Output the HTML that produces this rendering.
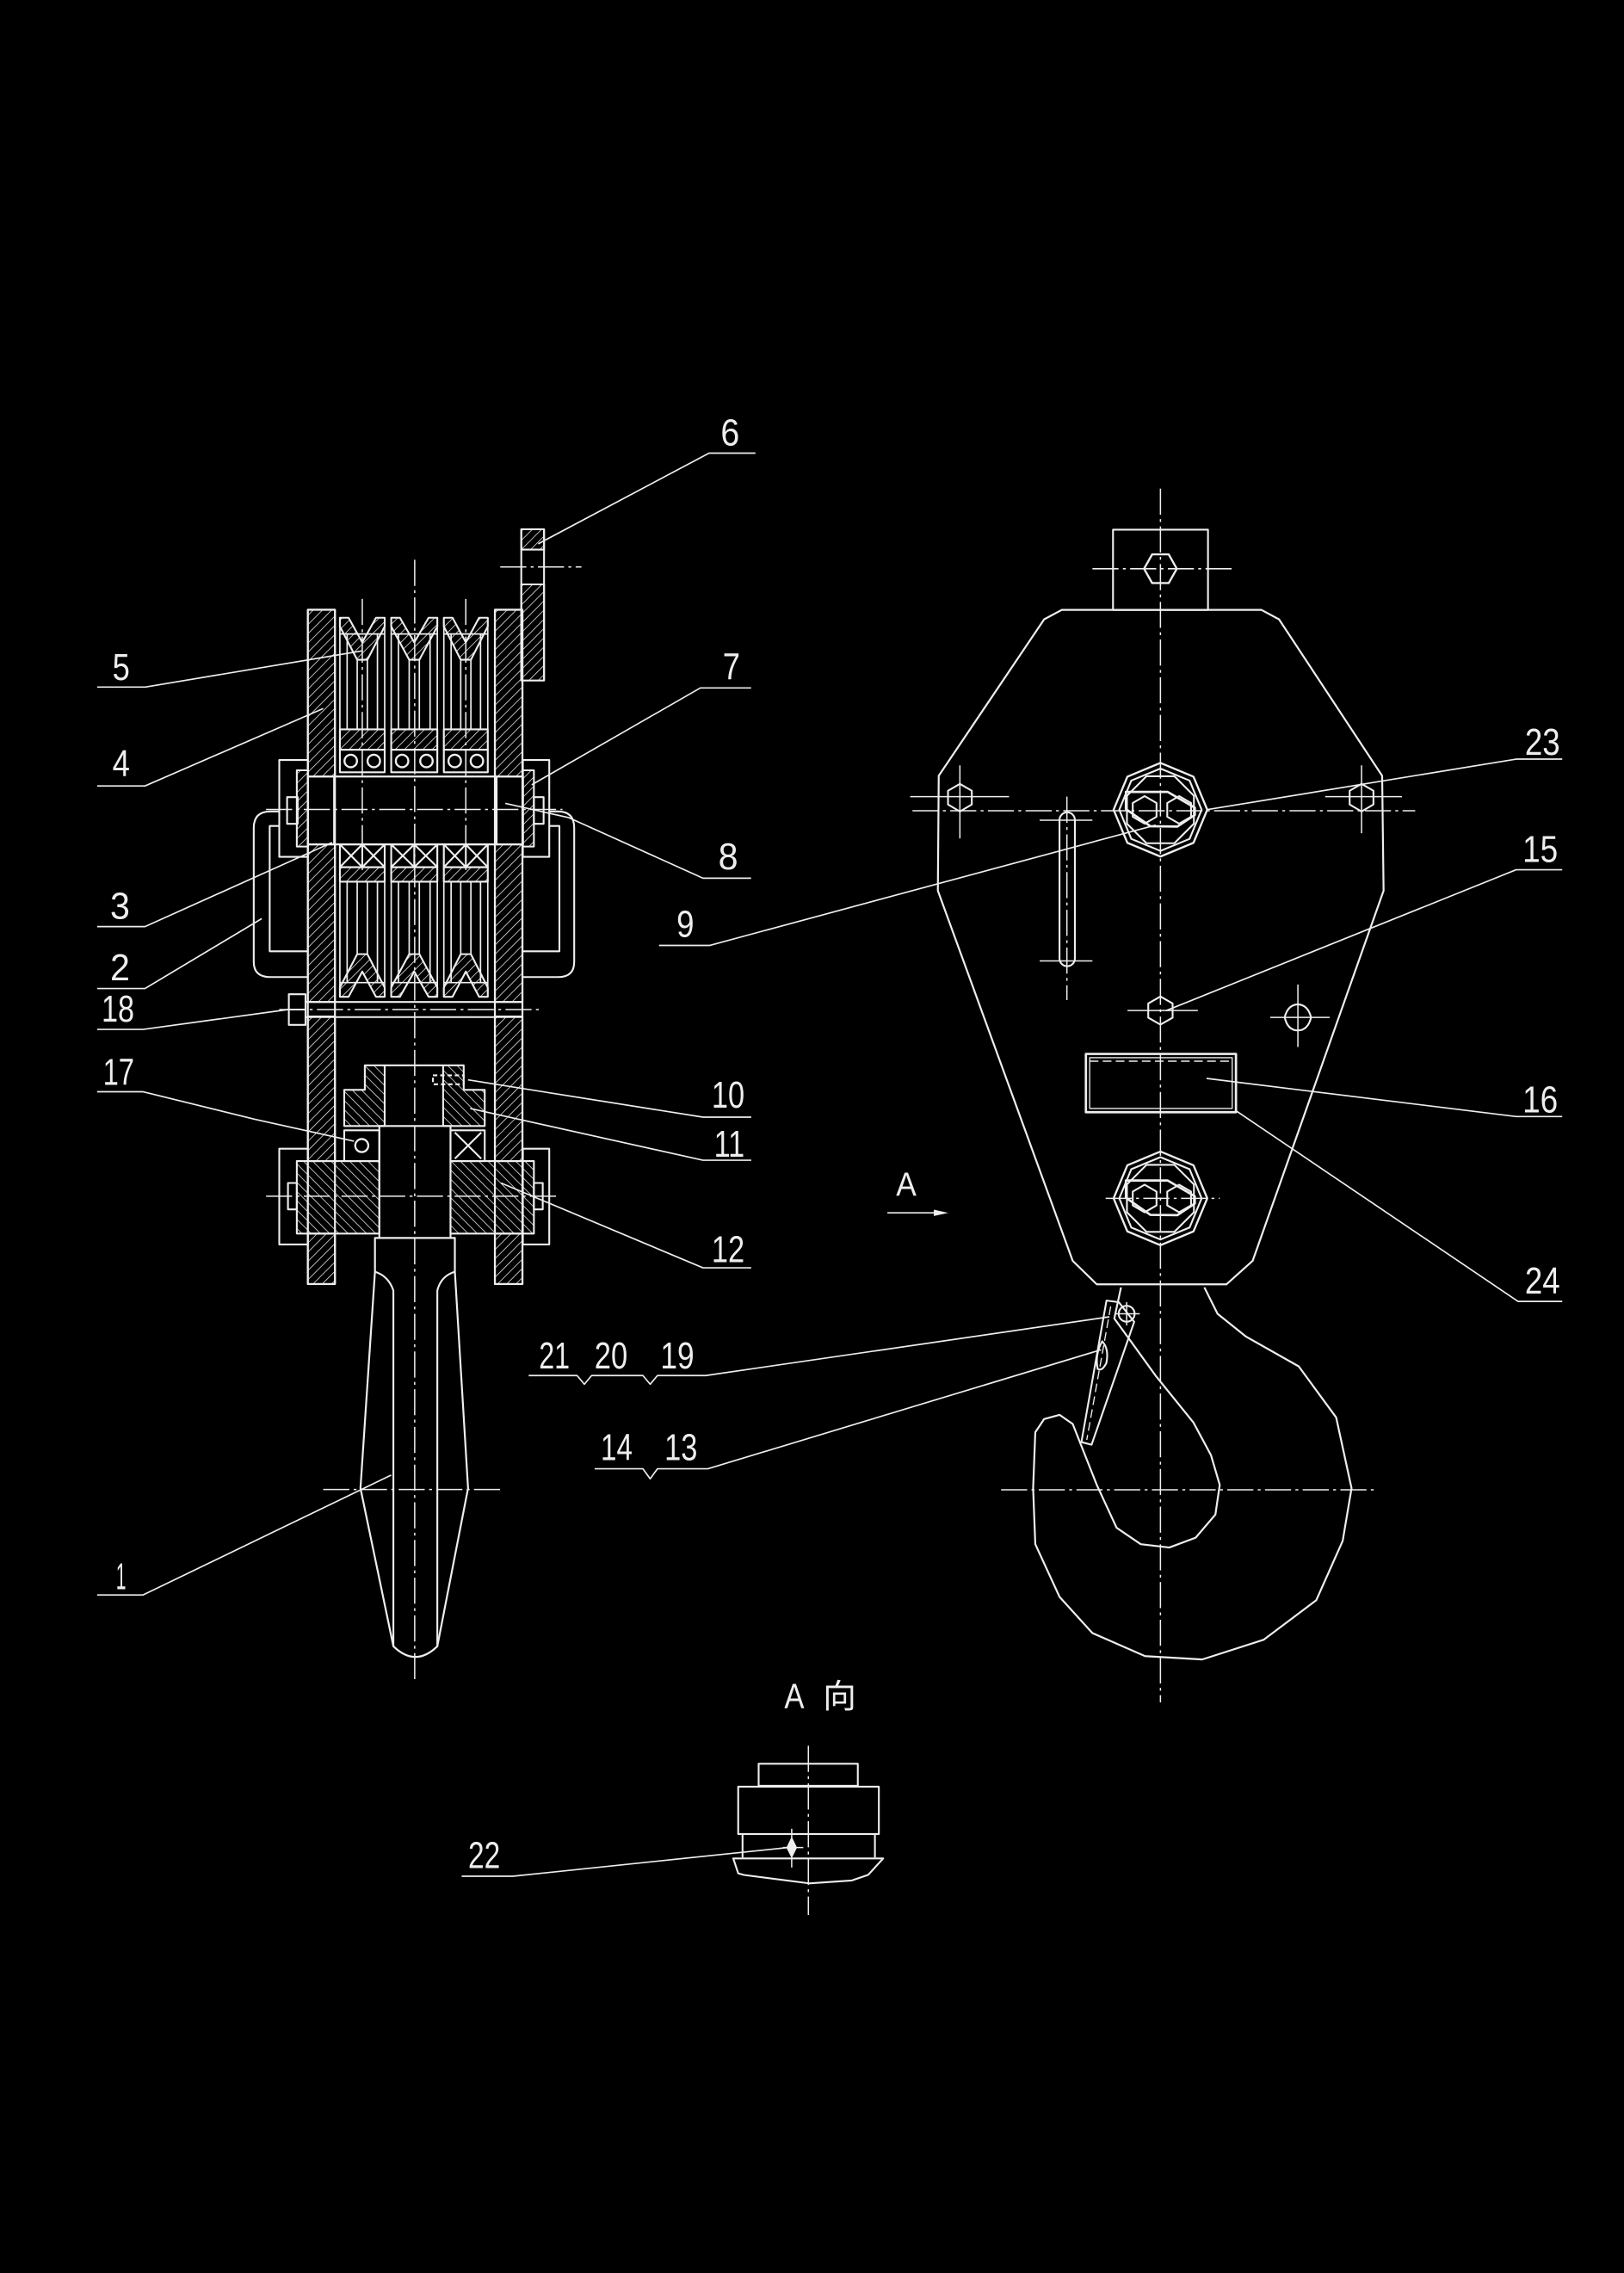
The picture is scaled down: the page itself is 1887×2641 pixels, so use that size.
<!DOCTYPE html>
<html><head><meta charset="utf-8"><style>
html,body{margin:0;padding:0;background:#000;}
svg{display:block;}
text{font-family:"Liberation Sans","Noto Sans CJK SC",sans-serif;fill:#eee;font-size:26px;}
</style></head><body>
<svg xmlns="http://www.w3.org/2000/svg" width="1887" height="2641" viewBox="0 0 1120 1567.5">
<defs>
<pattern id="hf" patternUnits="userSpaceOnUse" width="4.5" height="4.5" patternTransform="rotate(45)"><line x1="0" y1="0" x2="0" y2="4.5" stroke="#eee" stroke-width="0.9"/></pattern>
<pattern id="hb" patternUnits="userSpaceOnUse" width="4.5" height="4.5" patternTransform="rotate(-45)"><line x1="0" y1="0" x2="0" y2="4.5" stroke="#eee" stroke-width="0.9"/></pattern>
</defs>
<rect width="1120" height="1567.5" fill="#000"/>
<g fill="none" stroke="#eee" stroke-width="1.25" stroke-linejoin="round">

<!-- ===== centerlines (dash-dot) ===== -->
<g stroke-width="0.9" stroke-dasharray="18 3 2 3">
<line x1="286" y1="386" x2="286" y2="1160"/>
<line x1="249.85" y1="413" x2="249.85" y2="600"/>
<line x1="321.25" y1="413" x2="321.25" y2="600"/>
<line x1="183.5" y1="558.2" x2="387.9" y2="558.2"/>
<line x1="192.6" y1="696.2" x2="374.2" y2="696.2"/>
<line x1="183.5" y1="824.9" x2="384.9" y2="824.9"/>
<line x1="222.9" y1="1027.2" x2="347" y2="1027.2"/>
<line x1="345" y1="391" x2="401" y2="391"/>
<line x1="800.3" y1="337" x2="800.3" y2="1174"/>
<line x1="629.3" y1="559.1" x2="976" y2="559.1"/>
<line x1="753.4" y1="392.2" x2="850.3" y2="392.2"/>
<line x1="762.5" y1="826.4" x2="841.2" y2="826.4"/>
<line x1="690.4" y1="1027.4" x2="948.7" y2="1027.4"/>
<line x1="735.8" y1="549.4" x2="735.8" y2="689.7"/>
<line x1="557.5" y1="1203.9" x2="557.5" y2="1320.6"/>
</g>

<!-- ===== LEFT ASSEMBLY ===== -->
<g fill="url(#hf)">
<rect x="212.3" y="420.5" width="18.7" height="115"/>
<rect x="212.3" y="582.3" width="18.7" height="108.7"/>
<rect x="212.3" y="701" width="18.7" height="99.7"/>
<rect x="212.3" y="850.7" width="18.7" height="34.8"/>
<rect x="341.3" y="420.5" width="19" height="115"/>
<rect x="341.3" y="582.3" width="19" height="108.7"/>
<rect x="341.3" y="701" width="19" height="99.7"/>
<rect x="341.3" y="850.7" width="19" height="34.8"/>
<rect x="359.5" y="365" width="15.7" height="14"/>
<rect x="359.5" y="403" width="15.7" height="66.3"/>
<rect x="204.7" y="531.2" width="7.6" height="52.6"/>
<rect x="360.6" y="531.2" width="7.6" height="52.6"/>
</g>
<line x1="359.5" y1="365" x2="359.5" y2="469.3"/>
<line x1="375.2" y1="365" x2="375.2" y2="469.3"/>

<!-- sheave rims / hubs -->
<g fill="url(#hf)">
<polygon points="234.4,426 240.4,426 249.85,443 259.3,426 265.3,426 265.3,432 253.35,455 246.35,455 234.4,432"/>
<polygon points="269.8,426 275.8,426 285.7,443 295.6,426 301.6,426 301.6,432 289.2,455 282.2,455 269.8,432"/>
<polygon points="306.1,426 312.1,426 321.25,443 330.4,426 336.4,426 336.4,432 324.75,455 317.75,455 306.1,432"/>
<rect x="234.4" y="503" width="30.9" height="14"/>
<rect x="269.8" y="503" width="31.8" height="14"/>
<rect x="306.1" y="503" width="30.3" height="14"/>
<rect x="234.4" y="598" width="30.9" height="10"/>
<rect x="269.8" y="598" width="31.8" height="10"/>
<rect x="306.1" y="598" width="30.3" height="10"/>
<polygon points="234.4,687.4 240.4,687.4 249.85,670 259.3,687.4 265.3,687.4 265.3,681 253.35,658 246.35,658 234.4,681"/>
<polygon points="269.8,687.4 275.8,687.4 285.7,670 295.6,687.4 301.6,687.4 301.6,681 289.2,658 282.2,658 269.8,681"/>
<polygon points="306.1,687.4 312.1,687.4 321.25,670 330.4,687.4 336.4,687.4 336.4,681 324.75,658 317.75,658 306.1,681"/>
</g>
<path d="M234.4 426V532.6M265.3 426V532.6M269.8 426V532.6M301.6 426V532.6M306.1 426V532.6M336.4 426V532.6
M234.4 582.3V687.4M265.3 582.3V687.4M269.8 582.3V687.4M301.6 582.3V687.4M306.1 582.3V687.4M336.4 582.3V687.4
M246.35 455V503M253.35 455V503M282.2 455V503M289.2 455V503M317.75 455V503M324.75 455V503
M246.35 608V658M253.35 608V658M282.2 608V658M289.2 608V658M317.75 608V658M324.75 608V658
M239.4 437V503M260.3 437V503M274.8 437V503M296.6 437V503M311.1 437V503M331.4 437V503
M239.4 608V678M260.3 608V678M274.8 608V678M296.6 608V678M311.1 608V678M331.4 608V678
M234.4 437.2H265.3M269.8 437.2H301.6M306.1 437.2H336.4
M234.4 677.6H265.3M269.8 677.6H301.6M306.1 677.6H336.4" stroke-width="1"/>
<rect x="234.4" y="517" width="30.9" height="15.6"/>
<rect x="269.8" y="517" width="31.8" height="15.6"/>
<rect x="306.1" y="517" width="30.3" height="15.6"/>
<g stroke-width="1.4">
<circle cx="241.9" cy="524.8" r="4.3"/><circle cx="257.8" cy="524.8" r="4.3"/>
<circle cx="277.3" cy="524.8" r="4.3"/><circle cx="294.1" cy="524.8" r="4.3"/>
<circle cx="313.6" cy="524.8" r="4.3"/><circle cx="328.9" cy="524.8" r="4.3"/>
</g>
<rect x="234.4" y="582.3" width="30.9" height="15.7"/>
<rect x="269.8" y="582.3" width="31.8" height="15.7"/>
<rect x="306.1" y="582.3" width="30.3" height="15.7"/>
<path d="M234.4 582.3L249.85 598M249.85 582.3L234.4 598M249.85 582.3L265.3 598M265.3 582.3L249.85 598M249.85 582.3V598
M269.8 582.3L285.7 598M285.7 582.3L269.8 598M285.7 582.3L301.6 598M301.6 582.3L285.7 598M285.7 582.3V598
M306.1 582.3L321.25 598M321.25 582.3L306.1 598M321.25 582.3L336.4 598M336.4 582.3L321.25 598M321.25 582.3V598"/>
<rect x="212.3" y="535.5" width="148.3" height="46.8" stroke-width="1.4"/>
<path d="M230.4 535.5V582.3M342.5 535.5V582.3"/>
<path d="M212.3 420.5H231V885.5H212.3ZM341.3 420.5H360.3V885.5H341.3Z" stroke-width="1.3"/>
<rect x="192.6" y="524.1" width="19.7" height="66.8"/>
<rect x="360.6" y="524.1" width="18.2" height="66.8"/>
<rect x="198" y="549.7" width="7.3" height="18.4"/>
<rect x="368.2" y="549.7" width="6.7" height="18.4"/>
<path d="M192.6 559.6H186.5Q175 559.6 175 571V663.3Q175 673.8 186.5 673.8H212.3"/>
<path d="M192.6 569.6H186V656H212.3"/>
<path d="M378.8 559.6H384.9Q396 559.6 396 571V663.3Q396 673.8 384.9 673.8H360.6"/>
<path d="M378.8 569.6H385.8V656H360.6"/>
<rect x="199.2" y="685.6" width="11.5" height="21.2"/>
<path d="M199.2 696.2H210.7M210.7 691H360.6M210.7 701.4H360.6"/>

<g fill="url(#hb)">
<polygon points="251.6,734.7 265.3,734.7 265.3,776.5 237.4,776.5 237.4,751.6 251.6,751.6"/>
<polygon points="305.6,734.7 319.8,734.7 319.8,751.6 334.3,751.6 334.3,776.5 305.6,776.5"/>
<rect x="204.7" y="800.7" width="56.9" height="50"/>
<rect x="310.7" y="800.7" width="57.5" height="50"/>
</g>
<path d="M265.3 734.7H305.6M261.6 776.5H310.7M261.6 776.5V853.7M310.7 776.5V853.7"/>
<rect x="298.6" y="741.6" width="21.2" height="6.1" stroke-dasharray="3 2"/>
<rect x="237.4" y="779.5" width="24.2" height="21.2"/>
<circle cx="249.5" cy="790" r="4.5" stroke-width="1.4"/>
<rect x="310.7" y="779.5" width="23.6" height="21.2"/>
<path d="M313.7 781L331.9 799M331.9 781L313.7 799"/>
<rect x="192.6" y="792.2" width="19.7" height="66"/>
<rect x="360.6" y="792.2" width="18.2" height="66"/>
<rect x="198.6" y="815.8" width="6.1" height="18.2"/>
<rect x="368.2" y="815.8" width="6.1" height="18.2"/>

<path d="M258.6 853.7H313.7V877L322.8 1026.3L301.6 1135.3Q286.5 1150 271.3 1135.3L248.6 1026.3L258.6 877Z" stroke-width="1.3"/>
<path d="M258.6 877Q268 880 271.3 890V1135.3M313.7 877Q304 880 301.6 890V1135.3"/>

<!-- ===== RIGHT VIEW ===== -->
<rect x="767.6" y="365.3" width="65.5" height="55.3"/>
<polygon points="789,392.2 794.6,382.3 806,382.3 811.6,392.2 806,402.1 794.6,402.1" stroke-width="1.4"/>
<path d="M732.2 420.6L870 420.6L882.1 427.1L953.2 535L954.2 614.2L863.9 869.5L845.8 885.7L756.4 885.7L739.8 869.5L646.8 614.2L647.4 535L720.1 427.1Z" stroke-width="1.3"/>
<polygon points="800.3,526.1 823.1,535.6 832.6,558.4 823.1,581.2 800.3,590.7 777.5,581.2 768,558.4 777.5,535.6" stroke-width="1.4"/>
<polygon points="800.3,530 820.4,538.3 828.7,558.4 820.4,578.5 800.3,586.8 780.2,578.5 771.9,558.4 780.2,538.3"/>
<polygon points="790.7,535.3 809.9,535.3 823.4,548.8 823.4,568 809.9,581.5 790.7,581.5 777.2,568 777.2,548.8"/>
<polygon points="776.5,546.1 805.3,546.1 824,557 824,562 812,570 793.4,569.8 776.5,558" stroke-width="1.6"/>
<polygon points="789.4,549 797.6,553.75 797.6,563.25 789.4,568 781.2,563.25 781.2,553.75"/>
<polygon points="813.2,549 821.4,553.75 821.4,563.25 813.2,568 805,563.25 805,553.75"/>
<polygon points="800.3,794.1 823.1,803.6 832.6,826.4 823.1,849.2 800.3,858.7 777.5,849.2 768,826.4 777.5,803.6" stroke-width="1.4"/>
<polygon points="800.3,798 820.4,806.3 828.7,826.4 820.4,846.5 800.3,854.8 780.2,846.5 771.9,826.4 780.2,806.3"/>
<polygon points="790.7,803.3 809.9,803.3 823.4,816.8 823.4,836 809.9,849.5 790.7,849.5 777.2,836 777.2,816.8"/>
<polygon points="776.5,814.1 805.3,814.1 824,825 824,830 812,838 793.4,837.8 776.5,826" stroke-width="1.6"/>
<polygon points="789.4,817 797.6,821.75 797.6,831.25 789.4,836 781.2,831.25 781.2,821.75"/>
<polygon points="813.2,817 821.4,821.75 821.4,831.25 813.2,836 805,831.25 805,821.75"/>
<polygon points="662,540.6 670.2,545.3 670.2,554.8 662,559.6 653.8,554.8 653.8,545.3"/>
<path d="M627.7 549.4H695.9M662 527.8V578.2" stroke-width="0.9"/>
<polygon points="939,540.6 947.2,545.3 947.2,554.8 939,559.6 930.8,554.8 930.8,545.3"/>
<path d="M913.9 549.4H966.9M939 527.8V574.6" stroke-width="0.9"/>
<polygon points="800.3,687.2 808.7,692 808.7,701.8 800.3,706.6 791.9,701.8 791.9,692"/>
<path d="M777.6 696.9H826.1" stroke-width="0.9"/>
<path d="M886 701.6Q888 693 895.1 692.6Q902 693 904.2 701.6Q902 710.5 895.1 710.6Q888 710.5 886 701.6Z"/>
<path d="M876 701.6H917M895.1 678.9V722" stroke-width="0.9"/>
<rect x="730.7" y="560.2" width="10.6" height="106.1" rx="5.3"/>
<path d="M717 565.6H753.4M717 662.7H753.4" stroke-width="0.9"/>
<rect x="748.9" y="726.8" width="103.5" height="40.2" stroke-width="1.6"/>
<rect x="751.5" y="729.4" width="98.3" height="35" stroke-width="0.8"/>
<path d="M751.5 731.8H849.8" stroke-dasharray="6 3" stroke-width="0.9"/>
<path d="M830.6 887.8L839.7 906L859.4 921.8L895.7 942.3L921.5 977.5L932.1 1026.3L926 1062.6L907.8 1103.5L871.5 1130.8L829.1 1144.4L789.7 1142.1L753.4 1126.2L730.7 1101.2L714 1064.9L712.5 1026.3L714 987.7L720.1 978.6L730.7 975.7L739.8 982L756.4 1024L770.1 1053.6L786.7 1064.9L806.4 1067.2L824.6 1060.4L838.2 1044.5L841.2 1024L835.2 1003.6L823 980.9L797.3 949.1L777.6 921.8L768.5 909.3L773.1 887.8" stroke-width="1.3"/>
<polygon points="763.1,896.9 771.6,898 782.2,911.6 752.8,996.3 745.8,994.5"/>
<path d="M766 901L749.5 993" stroke-dasharray="6 3" stroke-width="0.8"/>
<circle cx="777" cy="906" r="5.5"/>
<path d="M769 906H786M777 898V914" stroke-width="0.9"/>
<path d="M760.1 925Q765 930 763 940Q760 946 757 944Q755 934 760.1 925Z"/>
<line x1="612" y1="836.4" x2="646" y2="836.4" stroke-width="1"/>
<polygon points="654,836.4 644,834.2 644,838.6" fill="#eee" stroke="none"/>

<!-- ===== A VIEW ===== -->
<rect x="523.2" y="1216.3" width="68.4" height="15.2"/>
<rect x="509.1" y="1232.1" width="97" height="32.7"/>
<path d="M512.1 1264.8V1281M603.4 1264.8V1281"/>
<path d="M505.7 1281.6H609.1L598.8 1292.9L587.5 1296.8L558 1298.8L513 1293L509.1 1291.9Z"/>
<path d="M546 1261.2V1287.9M540 1274.1H554" stroke-width="0.9"/>
<polygon points="546,1268 549,1274.1 546,1280.2 543,1274.1" fill="#eee"/>

<!-- ===== LEADERS ===== -->
<g stroke-width="1">
<path d="M521 312.5H489L371.2 375"/>
<path d="M67 473.8H100.2L250.1 448.8"/>
<path d="M67 542H100L222.9 488.6"/>
<path d="M518 474.4H483L366.7 541.2"/>
<path d="M518 605.6H484.8L392.4 563.9L348.5 554"/>
<path d="M67 639H100L229 581"/>
<path d="M67 681.7H100L180.5 633.5"/>
<path d="M454.5 652H489.3L756 580L797 569"/>
<path d="M67 709.9H98.7L198.6 696.2"/>
<path d="M67 752.9H98.7L175.9 771.9L244.1 787"/>
<path d="M518.1 770.4H484.8L322.8 744.7"/>
<path d="M518.1 800.1H484.8L324.3 764.4"/>
<path d="M518.1 874.3H484.8L345.5 815.8"/>
<path d="M67 1099.9H98.7L269.8 1017.2"/>
<path d="M364.6 948.6H398L403 954.6L408 948.6H443.4L448.4 954.6L453.4 948.6H486.7L765.1 908.1"/>
<path d="M410.1 1012.9H443.4L448.4 1019.8L453.4 1012.9H488.2L759.4 930.8"/>
<path d="M1077.4 523.5H1045.6L832.1 558.4"/>
<path d="M1077.4 599.8H1045.6L804.3 696.9"/>
<path d="M1077.4 770H1045.6L832.1 743.7"/>
<path d="M1077.4 897.5H1047L852.4 766"/>
<path d="M318.4 1293.9H353.6L544.3 1274"/>
</g>
</g>

<!-- ===== LABELS ===== -->
<g>
<text x="497" y="307" textLength="13" lengthAdjust="spacingAndGlyphs">6</text>
<text x="77.5" y="469" textLength="12" lengthAdjust="spacingAndGlyphs">5</text>
<text x="77.5" y="535.5" textLength="12" lengthAdjust="spacingAndGlyphs">4</text>
<text x="498.4" y="468.7" textLength="12" lengthAdjust="spacingAndGlyphs">7</text>
<text x="495.4" y="599.4" textLength="13.6" lengthAdjust="spacingAndGlyphs">8</text>
<text x="76" y="633.5" textLength="13.6" lengthAdjust="spacingAndGlyphs">3</text>
<text x="76" y="676" textLength="13.6" lengthAdjust="spacingAndGlyphs">2</text>
<text x="466.6" y="646.2" textLength="12.1" lengthAdjust="spacingAndGlyphs">9</text>
<text x="70" y="704.5" textLength="22.6" lengthAdjust="spacingAndGlyphs">18</text>
<text x="71" y="748" textLength="21.6" lengthAdjust="spacingAndGlyphs">17</text>
<text x="490.8" y="763.8" textLength="22.7" lengthAdjust="spacingAndGlyphs">10</text>
<text x="492.4" y="797.7" textLength="21.1" lengthAdjust="spacingAndGlyphs">11</text>
<text x="490.8" y="870.3" textLength="22.7" lengthAdjust="spacingAndGlyphs">12</text>
<text x="80" y="1096" textLength="7" lengthAdjust="spacingAndGlyphs">1</text>
<text x="371.7" y="943.7" textLength="21.3" lengthAdjust="spacingAndGlyphs">21</text>
<text x="410" y="943.7" textLength="22.8" lengthAdjust="spacingAndGlyphs">20</text>
<text x="455.5" y="943.7" textLength="23.3" lengthAdjust="spacingAndGlyphs">19</text>
<text x="414.3" y="1007" textLength="21.9" lengthAdjust="spacingAndGlyphs">14</text>
<text x="458.3" y="1007" textLength="22.7" lengthAdjust="spacingAndGlyphs">13</text>
<text x="1051.7" y="520.6" textLength="24.2" lengthAdjust="spacingAndGlyphs">23</text>
<text x="1050" y="594.4" textLength="24.4" lengthAdjust="spacingAndGlyphs">15</text>
<text x="1050" y="767" textLength="24.4" lengthAdjust="spacingAndGlyphs">16</text>
<text x="1051.7" y="892" textLength="24.2" lengthAdjust="spacingAndGlyphs">24</text>
<text x="322.9" y="1288.3" textLength="22.1" lengthAdjust="spacingAndGlyphs">22</text>
<text x="618" y="824.6" textLength="14" lengthAdjust="spacingAndGlyphs" style="font-size:23px">A</text>
<text x="540.9" y="1178" textLength="13.7" lengthAdjust="spacingAndGlyphs" style="font-size:24px">A</text>
<text x="567.5" y="1178" style="font-size:23px">向</text>
</g>
</svg>
</body></html>
